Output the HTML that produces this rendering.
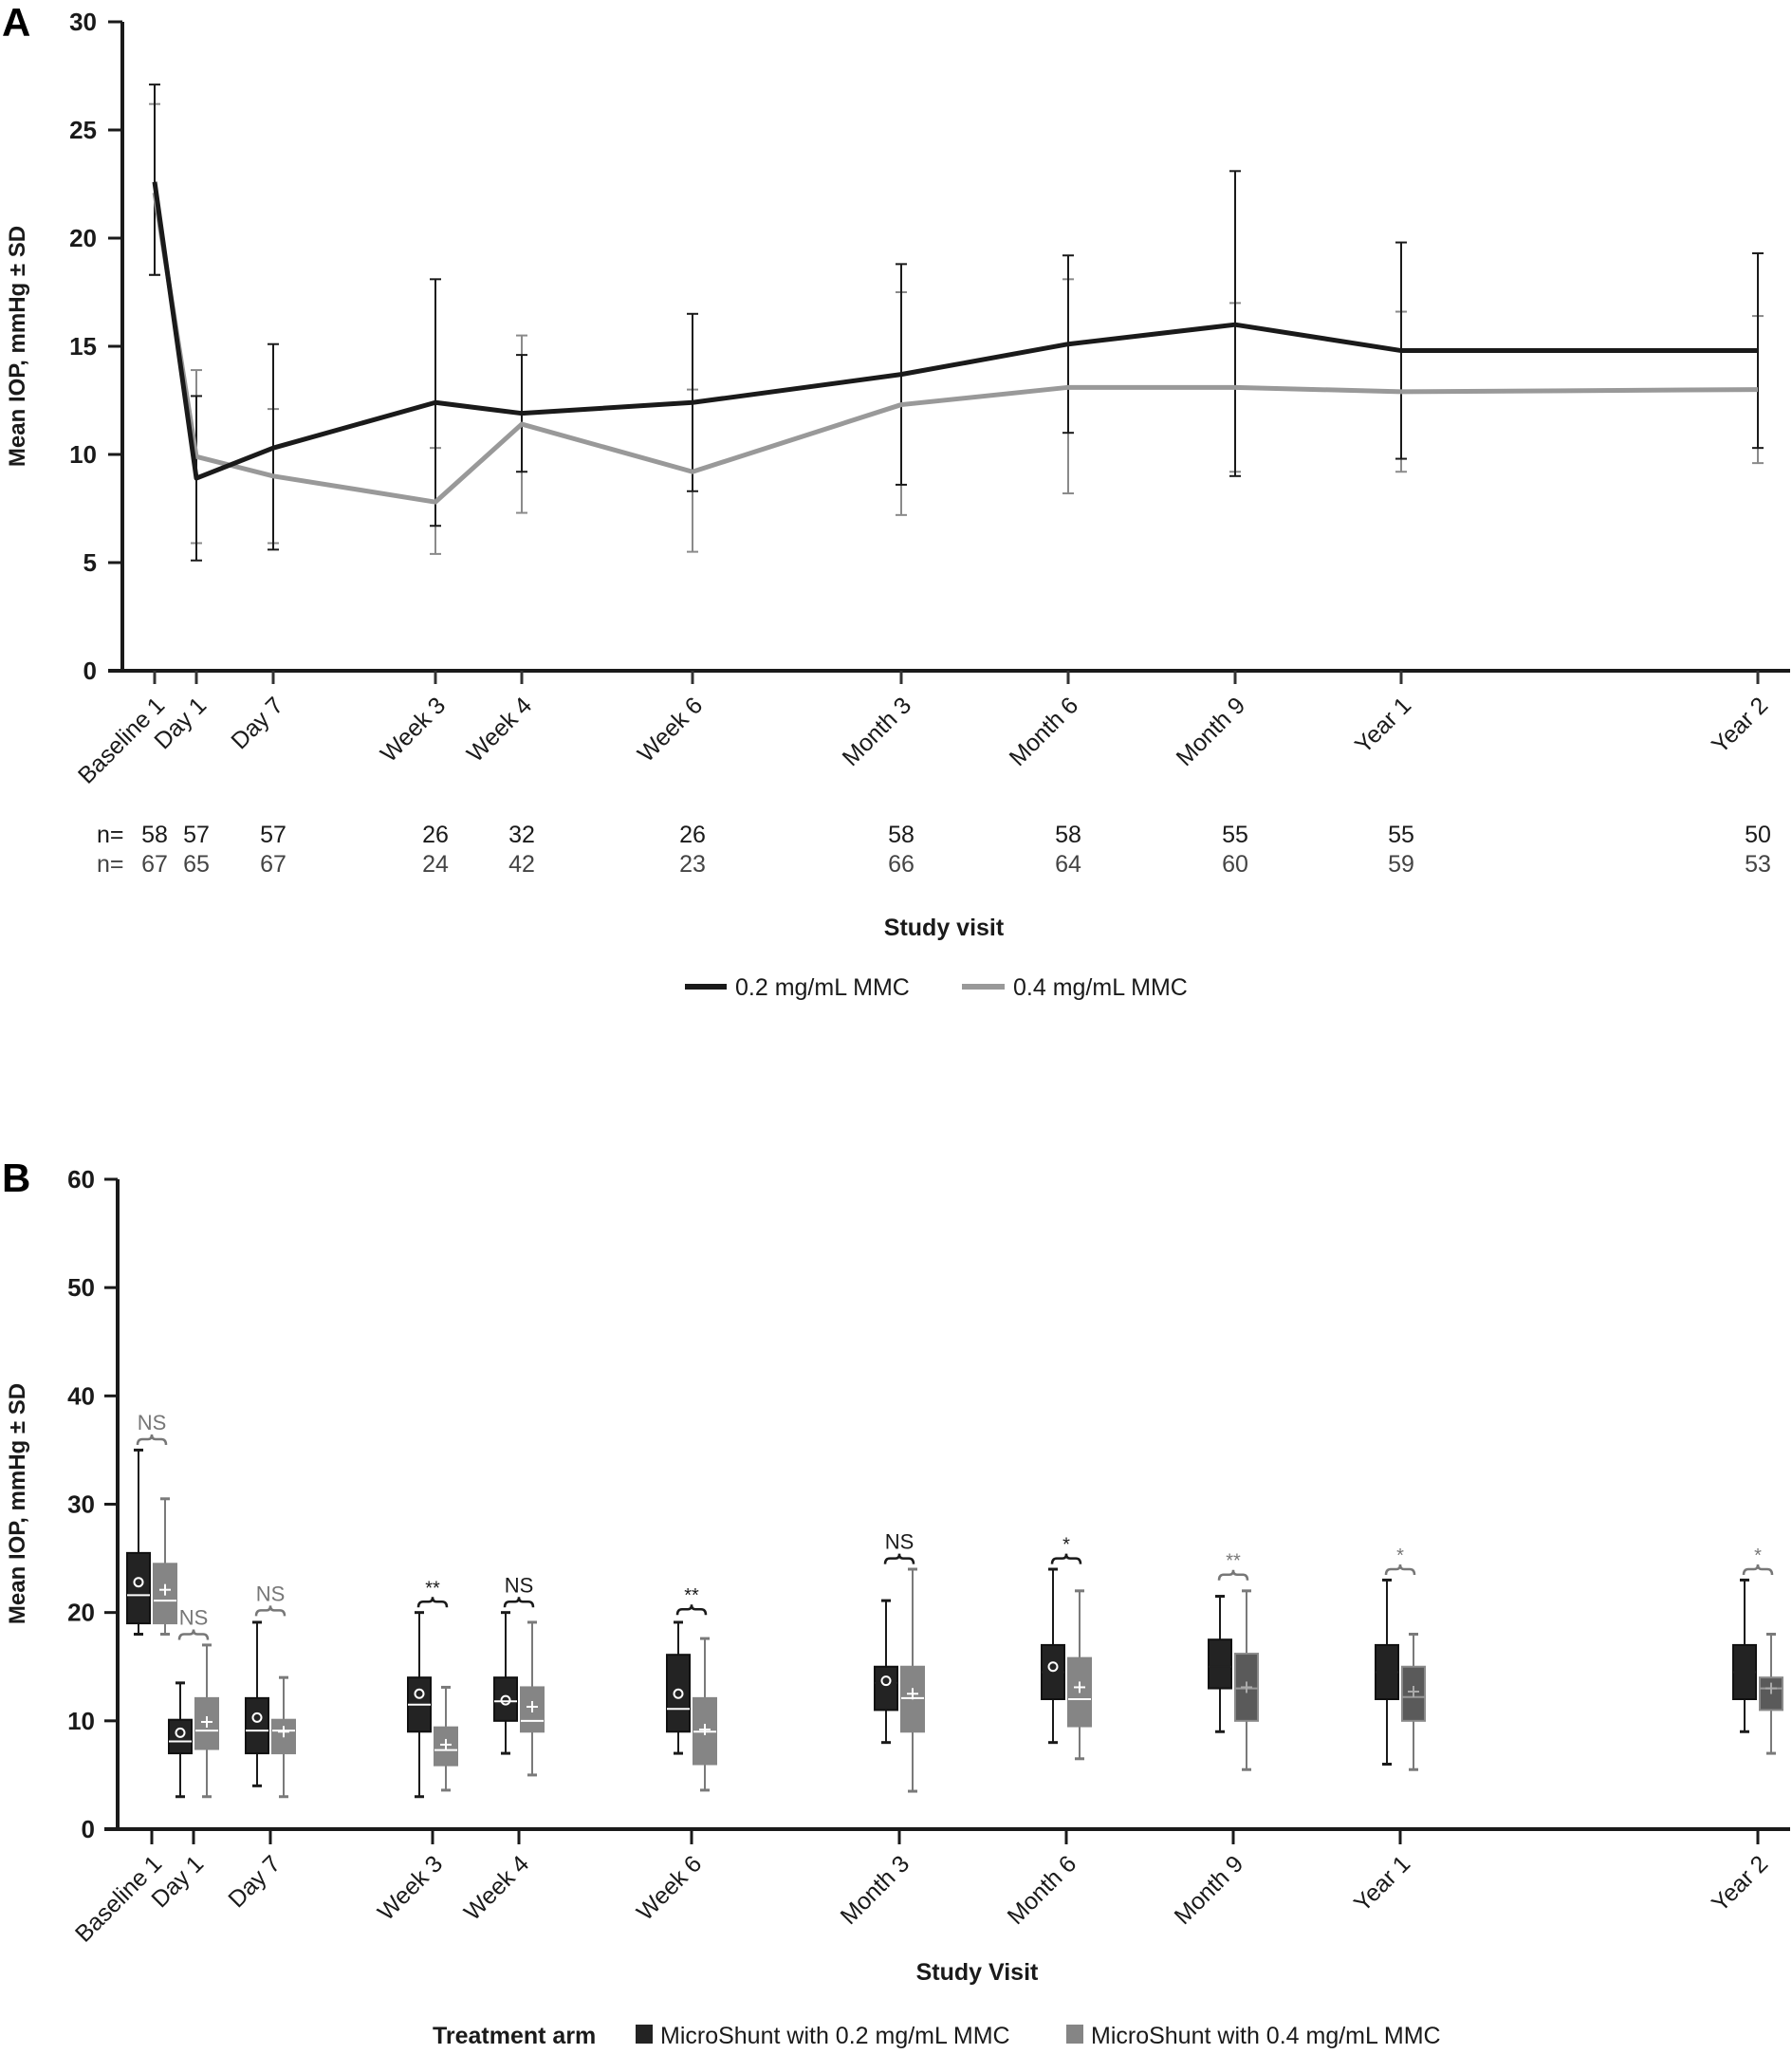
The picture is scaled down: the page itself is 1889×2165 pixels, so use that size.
<!DOCTYPE html>
<html><head><meta charset="utf-8">
<style>
html,body{margin:0;padding:0;background:#fff;}
svg{display:block;font-family:"Liberation Sans",Arial,sans-serif;}
</style></head>
<body>
<svg id="fig" width="1889" height="2165" viewBox="0 0 1889 2165" xmlns="http://www.w3.org/2000/svg">
<g id="chartA"></g>
<g id="chartB"></g>
</svg>
<script>
// ---------- Shared categories ----------
const visits = ["Baseline 1","Day 1","Day 7","Week 3","Week 4","Week 6","Month 3","Month 6","Month 9","Year 1","Year 2"];

// ---------- Chart A data ----------
const meanLow = [22.6,8.9,10.3,12.4,11.9,12.4,13.7,15.1,16.0,14.8,14.8];
const sdLowLo = [18.3,5.1,5.6,6.7,9.2,8.3,8.6,11.0,9.0,9.8,10.3];
const sdLowHi = [27.1,12.7,15.1,18.1,14.6,16.5,18.8,19.2,23.1,19.8,19.3];
const meanHigh = [22.1,9.9,9.0,7.8,11.4,9.2,12.3,13.1,13.1,12.9,13.0];
const sdHighLo = [18.3,5.9,5.9,5.4,7.3,5.5,7.2,8.2,9.2,9.2,9.6];
const sdHighHi = [26.2,13.9,12.1,10.3,15.5,13.0,17.5,18.1,17.0,16.6,16.4];
const nLow = [58,57,57,26,32,26,58,58,55,55,50];
const nHigh = [67,65,67,24,42,23,66,64,60,59,53];
const yTicksA = [0,5,10,15,20,25,30];

// ---------- Chart B data ----------
const lowMin = [18,3,4,3,7,7,8,8,9,6,9];
const lowQ1 = [19,7,7,9,10,9,11,12,13,12,12];
const lowMed = [21.6,8.1,9.1,11.5,11.8,11.1,13.5,14.5,15,14.5,14.5];
const lowQ3 = [25.5,10.1,12.1,14,14,16.1,15,17,17.5,17,17];
const lowMax = [35,13.5,19.1,20,20,19.1,21.1,24,21.5,23,23];
const lowMean = [22.8,8.9,10.3,12.5,11.9,12.5,13.7,15.0,null,null,null];
const highMin = [18,3,3,3.6,5,3.6,3.5,6.5,5.5,5.5,7];
const highQ1 = [19,7.4,7,5.9,9,6,9,9.5,10,10,11];
const highMed = [21.1,9.1,9.1,7.3,10,9,12.1,12,13,12.2,13];
const highQ3 = [24.5,12.1,10.1,9.4,13.1,12.1,15,15.8,16.2,15,14];
const highMax = [30.5,17,14,13.1,19.1,17.6,24,22,22,18,18];
const highMean = [22.1,9.9,9.0,7.8,11.3,9.2,12.5,13.1,13.1,12.7,13.0];
const sigLabels = ["NS","NS","NS","**","NS","**","NS","*","**","*","*"];
const sigLevel = [36,18,20.2,21,21,20.3,25,25,23.5,24,24];
const yTicksB = [0,10,20,30,40,50,60];

const NS = "http://www.w3.org/2000/svg";
function mk(parent, tag, attrs, text){
  const e = document.createElementNS(NS, tag);
  for (const k in attrs) e.setAttribute(k, attrs[k]);
  if (text !== undefined) e.textContent = text;
  parent.appendChild(e);
  return e;
}
const tickXA = [163,207,288,459,550,730,950,1126,1302,1477,1853];
const tickXB = [160,204,285,456,547,729,948,1124,1300,1476,1853];
function xA(i){ return tickXA[i]; }
function xB(i){ return tickXB[i]; }
function yA(v){ return 707 - v*(707-23)/30; }
function yB(v){ return 1928 - v*(1928-1243)/60; }

// ================= CHART A =================
const A = document.getElementById('chartA');
let t = mk(A,'text',{x:2,y:38,'font-size':42,'font-weight':'bold'},'A');
 
let ax = mk(A,'line',{x1:129,y1:23,x2:129,y2:709,stroke:'#1a1a1a','stroke-width':4});
 
ax = mk(A,'line',{x1:114,y1:707,x2:1887,y2:707,stroke:'#1a1a1a','stroke-width':4});
 
yTicksA.forEach(v=>{
  const l = mk(A,'line',{x1:114,y1:yA(v),x2:129,y2:yA(v),stroke:'#1a1a1a','stroke-width':3});
   
  const tx = mk(A,'text',{x:102,y:yA(v)+9,'font-size':26,'font-weight':'bold','text-anchor':'end',fill:'#1a1a1a'},String(v));
   
});
t = mk(A,'text',{x:0,y:0,'font-size':24,'font-weight':'bold','text-anchor':'middle',transform:'translate(26,365) rotate(-90)',fill:'#1a1a1a'},'Mean IOP, mmHg ± SD');
 
visits.forEach((v,i)=>{
  const l = mk(A,'line',{x1:xA(i),y1:707,x2:xA(i),y2:721,stroke:'#333','stroke-width':3});
   
  const tx = mk(A,'text',{x:0,y:0,'font-size':25,'text-anchor':'end',fill:'#1a1a1a',transform:`translate(${xA(i)+12},${745}) rotate(-45)`},v);
   
  const n1 = mk(A,'text',{x:xA(i),y:888,'font-size':25,'text-anchor':'middle',fill:'#1a1a1a'},String(nLow[i]));
   
  const n2 = mk(A,'text',{x:xA(i),y:919,'font-size':25,'text-anchor':'middle',fill:'#444'},String(nHigh[i]));
   
});
t = mk(A,'text',{x:102,y:888,'font-size':25,fill:'#1a1a1a'},'n=');
 
t = mk(A,'text',{x:102,y:919,'font-size':25,fill:'#444'},'n=');
 
t = mk(A,'text',{x:995,y:986,'font-size':25,'font-weight':'bold','text-anchor':'middle',fill:'#1a1a1a'},'Study visit');
 

function errBars(lo,hi,color,w,name){
  lo.forEach((v,i)=>{
    const x = xA(i);
    const g = mk(A,'g',{stroke:color,'stroke-width':w});
     
    mk(g,'line',{x1:x,y1:yA(v),x2:x,y2:yA(hi[i])});
    mk(g,'line',{x1:x-6,y1:yA(v),x2:x+6,y2:yA(v)});
    mk(g,'line',{x1:x-6,y1:yA(hi[i]),x2:x+6,y2:yA(hi[i])});
  });
}
errBars(sdHighLo,sdHighHi,'#8a8a8a',2,'error-bar-0-4');
errBars(sdLowLo,sdLowHi,'#1a1a1a',2,'error-bar-0-2');
let p = mk(A,'polyline',{points:meanHigh.map((v,i)=>xA(i)+','+yA(v)).join(' '),fill:'none',stroke:'#999','stroke-width':5,'stroke-linejoin':'round'});
 
p = mk(A,'polyline',{points:meanLow.map((v,i)=>xA(i)+','+yA(v)).join(' '),fill:'none',stroke:'#1a1a1a','stroke-width':5,'stroke-linejoin':'round'});
 
let lg = mk(A,'g',{});
 
let le = mk(lg,'line',{x1:722,y1:1040,x2:766,y2:1040,stroke:'#1a1a1a','stroke-width':6});
 
le = mk(lg,'text',{x:775,y:1049,'font-size':25,fill:'#1a1a1a'},'0.2 mg/mL MMC');
 
le = mk(lg,'line',{x1:1014,y1:1040,x2:1059,y2:1040,stroke:'#999','stroke-width':6});
 
le = mk(lg,'text',{x:1068,y:1049,'font-size':25,fill:'#1a1a1a'},'0.4 mg/mL MMC');
 

// ================= CHART B =================
const B = document.getElementById('chartB');
t = mk(B,'text',{x:2,y:1256,'font-size':42,'font-weight':'bold'},'B');
 
ax = mk(B,'line',{x1:124,y1:1243,x2:124,y2:1930,stroke:'#1a1a1a','stroke-width':4});
 
ax = mk(B,'line',{x1:110,y1:1928,x2:1887,y2:1928,stroke:'#1a1a1a','stroke-width':4});
 
yTicksB.forEach(v=>{
  const l = mk(B,'line',{x1:110,y1:yB(v),x2:124,y2:yB(v),stroke:'#1a1a1a','stroke-width':3});
   
  const tx = mk(B,'text',{x:100,y:yB(v)+9,'font-size':26,'font-weight':'bold','text-anchor':'end',fill:'#1a1a1a'},String(v));
   
});
t = mk(B,'text',{x:0,y:0,'font-size':24,'font-weight':'bold','text-anchor':'middle',transform:'translate(26,1585) rotate(-90)',fill:'#1a1a1a'},'Mean IOP, mmHg ± SD');
 
visits.forEach((v,i)=>{
  const l = mk(B,'line',{x1:xB(i),y1:1928,x2:xB(i),y2:1944,stroke:'#1a1a1a','stroke-width':3});
   
  const tx = mk(B,'text',{x:0,y:0,'font-size':25,'text-anchor':'end',fill:'#1a1a1a',transform:`translate(${xB(i)+12},${1966}) rotate(-45)`},v);
   
});
t = mk(B,'text',{x:1030,y:2087,'font-size':25,'font-weight':'bold','text-anchor':'middle',fill:'#1a1a1a'},'Study Visit');
 

function box(xc,mn,q1,md,q3,mx,mean,fill,edge,wcol,marker,mcol,medcol){
  const g = mk(B,'g',{});
  
  
  const hw = 12;
  mk(g,'line',{x1:xc,y1:yB(mn),x2:xc,y2:yB(mx),stroke:wcol,'stroke-width':2});
  mk(g,'line',{x1:xc-5,y1:yB(mn),x2:xc+5,y2:yB(mn),stroke:wcol,'stroke-width':3});
  mk(g,'line',{x1:xc-5,y1:yB(mx),x2:xc+5,y2:yB(mx),stroke:wcol,'stroke-width':3});
  mk(g,'rect',{x:xc-hw,y:yB(q3),width:hw*2,height:yB(q1)-yB(q3),fill:fill,stroke:edge,'stroke-width':2});
  mk(g,'line',{x1:xc-hw,y1:yB(md),x2:xc+hw,y2:yB(md),stroke:medcol,'stroke-width':2});
  if (mean !== null){
    if (marker==='o') mk(g,'circle',{cx:xc,cy:yB(mean),r:4.5,fill:'none',stroke:mcol,'stroke-width':2});
    else { mk(g,'line',{x1:xc-6,y1:yB(mean),x2:xc+6,y2:yB(mean),stroke:mcol,'stroke-width':2});
           mk(g,'line',{x1:xc,y1:yB(mean)-6,x2:xc,y2:yB(mean)+6,stroke:mcol,'stroke-width':2}); }
  }
}
visits.forEach((v,i)=>{
  const late = i>=8;
  box(xB(i)-14,lowMin[i],lowQ1[i],lowMed[i],lowQ3[i],lowMax[i],lowMean[i],'#232323','#111','#1a1a1a','o','#fff', i<=5?'#fff':'#232323');
  box(xB(i)+14,highMin[i],highQ1[i],highMed[i],highQ3[i],highMax[i],highMean[i],
      late?'#5a5a5a':'#858585', late?'#8a8a8a':'#858585', '#7a7a7a','+', late?'#aaa':'#fff', late?'#999':'#fff');
  const grayLbl = (i<=2 || i>=8);
  const col = grayLbl ? '#777' : '#1a1a1a';
  const x1 = xB(i)-15, x2 = xB(i)+15, xm = xB(i), y = yB(sigLevel[i]);
  const br = mk(B,'path',{d:`M${x1},${y+6} Q${x1},${y} ${x1+5},${y} L${xm-4},${y} Q${xm},${y} ${xm},${y-5} Q${xm},${y} ${xm+4},${y} L${x2-5},${y} Q${x2},${y} ${x2},${y+6}`,fill:'none',stroke:col,'stroke-width':2.5});
   
  const st = mk(B,'text',{x:xm,y:y-(sigLabels[i]==='NS'?10:8),'font-size':sigLabels[i]==='NS'?22:20,'text-anchor':'middle',fill:col},sigLabels[i]);
   
});
lg = mk(B,'g',{});
 
le = mk(lg,'text',{x:456,y:2154,'font-size':25,'font-weight':'bold',fill:'#1a1a1a'},'Treatment arm');
 
le = mk(lg,'rect',{x:670,y:2134,width:18,height:20,fill:'#232323'});
 
le = mk(lg,'text',{x:696,y:2154,'font-size':25,fill:'#1a1a1a'},'MicroShunt with 0.2 mg/mL MMC');
 
le = mk(lg,'rect',{x:1124,y:2134,width:18,height:20,fill:'#858585'});
 
le = mk(lg,'text',{x:1150,y:2154,'font-size':25,fill:'#1a1a1a'},'MicroShunt with 0.4 mg/mL MMC');
 
</script>
</body></html>
